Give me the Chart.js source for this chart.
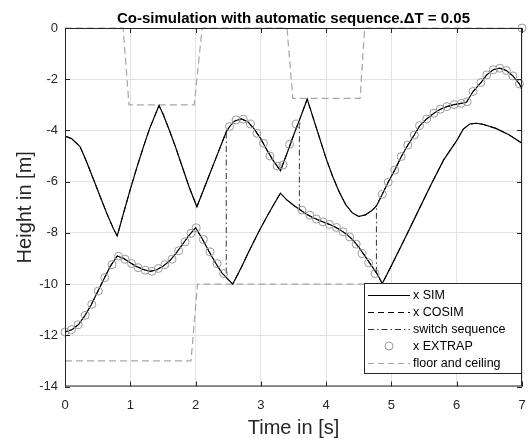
<!DOCTYPE html>
<html>
<head>
<meta charset="utf-8">
<script src="https://cdn.jsdelivr.net/npm/chart.js@4.4.0/dist/chart.umd.min.js"></script>
<style>
  html, body { margin: 0; padding: 0; background: #fff; }
</style>
</head>
<body>
<canvas id="chart" width="528" height="439"></canvas>
<script>
// tick labels
const xTicks = [0, 1, 2, 3, 4, 5, 6, 7];
const yTicks = [-14, -12, -10, -8, -6, -4, -2, 0];

// x SIM, upper body
const simUpperT = [0, 0.1, 0.23, 0.33, 0.43, 0.54, 0.64, 0.74, 0.8, 0.9, 1.0, 1.1, 1.2, 1.3, 1.44, 1.5, 1.6, 1.7, 1.8, 1.9, 2.02,
  2.1, 2.2, 2.3, 2.4, 2.47, 2.53, 2.6, 2.7, 2.8, 2.9, 3.0, 3.1, 3.2, 3.3, 3.4, 3.5, 3.6, 3.71, 3.8, 3.9, 4.0, 4.1, 4.2, 4.3,
  4.4, 4.5, 4.6, 4.7, 4.77, 4.86, 4.95, 5.05, 5.15, 5.25, 5.35, 5.43, 5.54, 5.65, 5.75, 5.85, 5.96, 6.07, 6.15, 6.25, 6.37,
  6.46, 6.56, 6.66, 6.76, 6.86, 6.96, 7.0];
const simUpperY = [-4.22, -4.32, -4.63, -5.22, -5.87, -6.59, -7.24, -7.83, -8.12, -7.2, -6.3, -5.45, -4.65, -3.9, -3.03, -3.35,
  -4.0, -4.7, -5.45, -6.2, -6.98, -6.46, -5.81, -5.16, -4.51, -4.05, -3.82, -3.63, -3.55, -3.66, -3.95, -4.33, -4.8, -5.22,
  -5.57, -4.9, -4.2, -3.53, -2.78, -3.5, -4.3, -5.1, -5.8, -6.4, -6.9, -7.22, -7.36, -7.3, -7.13, -6.95, -6.49, -6.02, -5.55,
  -5.03, -4.58, -4.18, -3.83, -3.55, -3.33, -3.17, -3.07, -2.99, -2.94, -2.9, -2.48, -2.13, -1.83, -1.63, -1.57, -1.66,
  -1.87, -2.18, -2.42];

// x SIM, lower body
const simLowerT = [0, 0.1, 0.2, 0.3, 0.4, 0.5, 0.6, 0.7, 0.8, 0.9, 1.0, 1.1, 1.2, 1.3, 1.4, 1.5, 1.6, 1.7, 1.8, 1.9, 2.0, 2.1,
  2.2, 2.3, 2.4, 2.5, 2.57, 2.7, 2.8, 2.9, 3.0, 3.1, 3.2, 3.3, 3.4, 3.5, 3.6, 3.7, 3.8, 3.9, 4.0, 4.1, 4.2, 4.3, 4.4, 4.5, 4.6,
  4.7, 4.78, 4.86, 5.0, 5.2, 5.4, 5.6, 5.8, 6.0, 6.1, 6.2, 6.3, 6.4, 6.6, 6.8, 7.0];
const simLowerY = [-11.87, -11.79, -11.6, -11.25, -10.82, -10.3, -9.78, -9.28, -8.9, -9.0, -9.17, -9.32, -9.43, -9.5, -9.45,
  -9.3, -9.1, -8.8, -8.45, -8.1, -7.8, -8.22, -8.7, -9.15, -9.55, -9.82, -10.0, -9.35, -8.82, -8.3, -7.8, -7.33, -6.88, -6.45,
  -6.72, -6.92, -7.1, -7.27, -7.41, -7.52, -7.62, -7.72, -7.86, -8.03, -8.25, -8.56, -8.93, -9.3, -9.6, -9.98, -9.28, -8.25,
  -7.2, -6.15, -5.15, -4.4, -3.95, -3.75, -3.72, -3.76, -3.92, -4.17, -4.5];

// x EXTRAP markers
const extrapT = [0, 0.1, 0.2, 0.31, 0.41, 0.51, 0.61, 0.72, 0.82, 0.92, 1.02, 1.12, 1.23, 1.33, 1.43, 1.53, 1.64, 1.74, 1.84,
  1.93, 2.01, 2.12, 2.22, 2.33, 2.43,
  2.52, 2.62, 2.73, 2.84, 2.94, 3.04, 3.14, 3.25, 3.34, 3.44, 3.54,
  3.63, 3.75, 3.85, 3.95, 4.05, 4.16, 4.26, 4.36, 4.46, 4.55, 4.65, 4.75,
  4.86, 4.95, 5.05, 5.15, 5.25, 5.35, 5.43, 5.54, 5.65, 5.75, 5.85, 5.96, 6.07, 6.16, 6.25, 6.37, 6.46, 6.56, 6.66, 6.76,
  6.86, 6.96, 7.0];
const extrapY = [-11.87, -11.78, -11.59, -11.22, -10.79, -10.27, -9.75, -9.24, -8.91, -9.03, -9.2, -9.36, -9.46, -9.5, -9.39,
  -9.24, -9.03, -8.7, -8.35, -8.02, -7.8, -8.26, -8.74, -9.2, -9.59,
  -3.85, -3.59, -3.56, -3.75, -4.11, -4.5, -5.0, -5.39, -5.35, -4.54, -3.75,
  -7.11, -7.31, -7.46, -7.57, -7.67, -7.79, -7.96, -8.16, -8.44, -8.81, -9.17, -9.59,
  -6.49, -6.02, -5.55, -5.02, -4.57, -4.18, -3.81, -3.55, -3.33, -3.17, -3.07, -2.99, -2.94, -2.88, -2.48, -2.13, -1.83,
  -1.63, -1.57, -1.66, -1.87, -2.18, 0];

// switch sequence
const switchT = [2.47, 3.59, 4.77];
const switchFrom = [-9.59, -3.7, -9.56];
const switchTo = [-4.05, -7.11, -6.98];

// floor and ceiling
const ceilT = [0, 0.89, 0.98, 1.98, 2.1, 3.4, 3.49, 4.52, 4.59, 7];
const ceilY = [0, 0, -3, -3, 0, 0, -2.75, -2.75, 0, 0];
const floorT = [0, 1.93, 2.03, 7];
const floorY = [-13, -13, -10, -10];

const pts = (t, y) => t.map((v, i) => ({ x: v, y: y[i] }));
const switchPts = [];
switchT.forEach((t, i) => {
  switchPts.push({ x: t, y: switchFrom[i] }, { x: t, y: switchTo[i] }, { x: t, y: null });
});

const AX = '#262626';
const GRAYLINE = '#a6a6a6';
const CIRCLE = '#9a9a9a';

const legendItems = [
  { label: 'x SIM', color: '#000', dash: [] },
  { label: 'x COSIM', color: '#000', dash: [6, 4] },
  { label: 'switch sequence', color: '#333', dash: [6, 3, 1.5, 3] },
  { label: 'x EXTRAP', marker: true },
  { label: 'floor and ceiling', color: GRAYLINE, dash: [6, 4] }
];

const decor = {
  id: 'decor',
  afterDraw(chart) {
    const { ctx, chartArea: a, scales: { x, y } } = chart;
    ctx.save();
    // frame and inward ticks
    ctx.strokeStyle = AX;
    ctx.lineWidth = 1;
    ctx.setLineDash([]);
    ctx.strokeRect(a.left + 0.5, a.top + 0.5, a.right - a.left - 1, a.bottom - a.top - 1);
    ctx.beginPath();
    xTicks.forEach(v => {
      const p = Math.round(x.getPixelForValue(v)) + 0.5;
      ctx.moveTo(p, a.bottom); ctx.lineTo(p, a.bottom - 5);
      ctx.moveTo(p, a.top); ctx.lineTo(p, a.top + 5);
    });
    yTicks.forEach(v => {
      const p = Math.round(y.getPixelForValue(v)) + 0.5;
      ctx.moveTo(a.left, p); ctx.lineTo(a.left + 5, p);
      ctx.moveTo(a.right, p); ctx.lineTo(a.right - 5, p);
    });
    ctx.stroke();

    // title and axis titles
    ctx.fillStyle = '#000';
    ctx.textAlign = 'center';
    ctx.textBaseline = 'alphabetic';
    ctx.font = 'bold 15px "Liberation Sans", Arial, sans-serif';
    ctx.fillText('Co-simulation with automatic sequence.\u0394T = 0.05', (a.left + a.right) / 2, 22.5);
    ctx.fillStyle = AX;
    ctx.font = '20px "Liberation Sans", Arial, sans-serif';
    ctx.fillText('Time in [s]', (a.left + a.right) / 2, 434);
    ctx.save();
    ctx.translate(31, (a.top + a.bottom) / 2);
    ctx.rotate(-Math.PI / 2);
    ctx.fillText('Height in [m]', 0, 0);
    ctx.restore();

    // legend
    const lx = 364, ly = 283, lw = 158, lh = 91;
    ctx.fillStyle = '#fff';
    ctx.fillRect(lx, ly, lw, lh);
    ctx.strokeStyle = AX;
    ctx.strokeRect(lx + 0.5, ly + 0.5, lw - 1, lh - 1);
    ctx.font = '12.5px "Liberation Sans", Arial, sans-serif';
    ctx.textAlign = 'left';
    ctx.textBaseline = 'middle';
    legendItems.forEach((it, i) => {
      const cy = 295 + i * 17;
      if (it.marker) {
        ctx.setLineDash([]);
        ctx.strokeStyle = CIRCLE;
        ctx.beginPath();
        ctx.arc(389, cy, 4, 0, Math.PI * 2);
        ctx.stroke();
      } else {
        ctx.setLineDash(it.dash);
        ctx.strokeStyle = it.color;
        ctx.beginPath();
        ctx.moveTo(368, cy + 0.5);
        ctx.lineTo(410, cy + 0.5);
        ctx.stroke();
      }
      ctx.setLineDash([]);
      ctx.fillStyle = '#000';
      ctx.fillText(it.label, 413, cy + 1);
    });
    ctx.restore();
  }
};

new Chart(document.getElementById('chart'), {
  type: 'scatter',
  data: {
    datasets: [
      { data: pts(extrapT, extrapY), showLine: false, pointRadius: 4, pointStyle: 'circle',
        pointBackgroundColor: 'rgba(0,0,0,0)', pointBorderColor: CIRCLE, pointBorderWidth: 1, clip: false },
      { data: pts(simUpperT, simUpperY), showLine: true, borderColor: '#000', borderWidth: 1.2, pointRadius: 0 },
      { data: pts(simLowerT, simLowerY), showLine: true, borderColor: '#000', borderWidth: 1.2, pointRadius: 0 },
      { data: pts(simUpperT, simUpperY), showLine: true, borderColor: '#000', borderWidth: 1, borderDash: [6, 4], pointRadius: 0 },
      { data: pts(simLowerT, simLowerY), showLine: true, borderColor: '#000', borderWidth: 1, borderDash: [6, 4], pointRadius: 0 },
      { data: switchPts, showLine: true, spanGaps: false, borderColor: '#333', borderWidth: 1, borderDash: [6, 3, 1.5, 3], pointRadius: 0 },
      { data: pts(ceilT, ceilY), showLine: true, borderColor: GRAYLINE, borderWidth: 1.2, borderDash: [7, 4], pointRadius: 0, clip: false },
      { data: pts(floorT, floorY), showLine: true, borderColor: GRAYLINE, borderWidth: 1.2, borderDash: [7, 4], pointRadius: 0 }
    ]
  },
  options: {
    responsive: false,
    animation: false,
    layout: { padding: { top: 28, right: 6, left: 0, bottom: 0 } },
    plugins: { legend: { display: false }, tooltip: { enabled: false }, title: { display: false } },
    scales: {
      x: {
        type: 'linear', min: 0, max: 7,
        afterBuildTicks: s => { s.ticks = xTicks.map(v => ({ value: v })); },
        afterFit: s => { s.height = 52.5; s.paddingLeft = 0; s.paddingRight = 0; },
        grid: { color: '#e3e3e3', drawTicks: false },
        border: { display: false },
        ticks: { color: AX, font: { size: 13, family: '"Liberation Sans", Arial, sans-serif' }, padding: 11, maxRotation: 0 }
      },
      y: {
        type: 'linear', min: -14, max: 0,
        afterBuildTicks: s => { s.ticks = yTicks.map(v => ({ value: v })); },
        afterFit: s => { s.width = 65; s.paddingTop = 0; s.paddingBottom = 0; },
        grid: { color: '#e3e3e3', drawTicks: false },
        border: { display: false },
        ticks: { color: AX, font: { size: 13, family: '"Liberation Sans", Arial, sans-serif' }, padding: 7 }
      }
    }
  },
  plugins: [decor]
});
</script>
</body>
</html>
